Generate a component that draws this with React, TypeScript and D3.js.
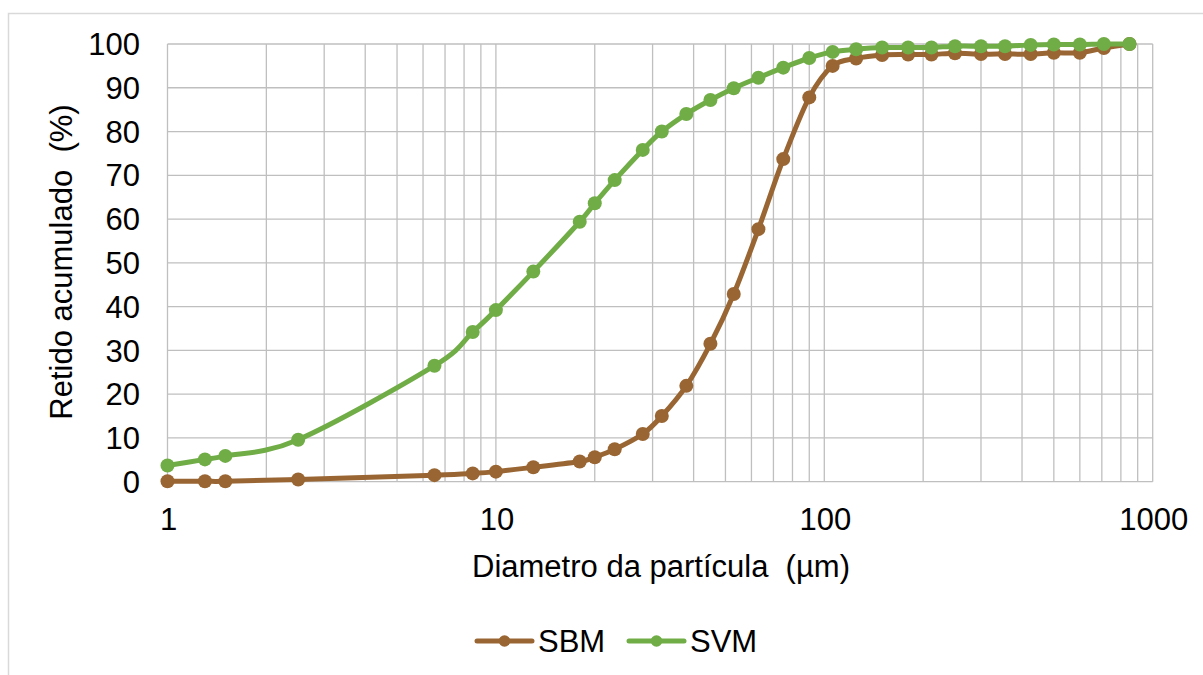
import React from "react";
import * as d3 from "d3";

const sbmSizes = [1, 1.3, 1.5, 2.5, 6.5, 8.5, 10, 13, 18, 20, 23, 28, 32, 38, 45, 53, 63, 75, 90, 106, 125, 150, 180, 212, 250, 300, 355, 425, 500, 600, 710, 850];
const sbmValues = [0.1, 0.1, 0.1, 0.5, 1.5, 1.9, 2.3, 3.3, 4.6, 5.6, 7.4, 10.9, 15.0, 21.9, 31.5, 42.9, 57.7, 73.7, 87.8, 95.0, 96.7, 97.5, 97.6, 97.6, 97.9, 97.7, 97.7, 97.7, 98.0, 98.0, 99.1, 100];
const svmSizes = [1, 1.3, 1.5, 2.5, 6.5, 8.5, 10, 13, 18, 20, 23, 28, 32, 38, 45, 53, 63, 75, 90, 106, 125, 150, 180, 212, 250, 300, 355, 425, 500, 600, 710, 850];
const svmValues = [3.7, 5.1, 5.9, 9.6, 26.5, 34.2, 39.2, 48.0, 59.4, 63.6, 68.9, 75.8, 80.0, 84.0, 87.2, 89.9, 92.3, 94.6, 96.8, 98.2, 98.8, 99.2, 99.2, 99.2, 99.5, 99.5, 99.5, 99.8, 99.9, 99.9, 100, 100];
const yTicks = [0, 10, 20, 30, 40, 50, 60, 70, 80, 90, 100];
const xTicks = [1, 10, 100, 1000];
const seriesNames = ["SBM", "SVM"];
const seriesColors = ["#996633", "#70AD47"];

export default function App() {
  const W = 1203, H = 675;
  const x = d3.scaleLog().domain([1, 1000]).range([167.5, 1152.7]);
  const y = d3.scaleLinear().domain([0, 100]).range([481.7, 44]);
  const minor: number[] = [];
  for (const dec of [1, 10, 100]) for (let k = 2; k <= 9; k++) minor.push(dec * k);
  const line = d3
    .line<[number, number]>()
    .x((d) => x(d[0]))
    .y((d) => y(d[1]))
    .curve(d3.curveCardinal.tension(0));
  const series = [
    sbmSizes.map((s, i) => [s, sbmValues[i]] as [number, number]),
    svmSizes.map((s, i) => [s, svmValues[i]] as [number, number]),
  ];
  const font = "'Liberation Sans', Arial, sans-serif";
  const fs = 31;
  const grid = "#BFBFBF";
  const legendX = [477, 629];
  const legendY = 641;
  return (
    <svg width={W} height={H} style={{ position: "fixed", left: 0, top: 0, background: "#fff" }} fontFamily={font}>
      <rect x={0} y={0} width={W} height={H} fill="#fff" />
      <rect x={8.5} y={13.5} width={W + 20} height={H + 20} fill="none" stroke="#D9D9D9" strokeWidth={1.5} />
      {minor.map((v) => (
        <line key={"m" + v} x1={x(v)} x2={x(v)} y1={y(0)} y2={y(100)} stroke={grid} strokeWidth={1.3} />
      ))}
      {xTicks.map((v) => (
        <line key={"xt" + v} x1={x(v)} x2={x(v)} y1={y(0)} y2={y(100)} stroke={grid} strokeWidth={1.3} />
      ))}
      {yTicks.map((v) => (
        <line key={"yg" + v} x1={x(1)} x2={x(1000)} y1={y(v)} y2={y(v)} stroke={grid} strokeWidth={1.3} />
      ))}
      {yTicks.map((v) => (
        <text key={"yl" + v} x={140} y={y(v)} dy="0.36em" textAnchor="end" fontSize={fs} fill="#000">
          {v}
        </text>
      ))}
      {xTicks.map((v) => (
        <text key={"xl" + v} x={x(v) + 1} y={530} textAnchor="middle" fontSize={fs} fill="#000">
          {v}
        </text>
      ))}
      {series.map((s, i) => (
        <g key={"s" + i}>
          <path d={line(s) || ""} fill="none" stroke={seriesColors[i]} strokeWidth={5} strokeLinejoin="round" strokeLinecap="round" />
          {s.map((d, j) => (
            <circle key={j} cx={x(d[0])} cy={y(d[1])} r={7} fill={seriesColors[i]} />
          ))}
        </g>
      ))}
      <text x={661} y={577} textAnchor="middle" fontSize={fs} fill="#000">
        {"Diametro da partícula\u00A0\u00A0(µm)"}
      </text>
      <text transform={`translate(72, 262) rotate(-90)`} textAnchor="middle" fontSize={fs} fill="#000">
        {"Retido acumulado\u00A0\u00A0(%)"}
      </text>
      {seriesNames.map((n, i) => (
        <g key={"lg" + i}>
          <line x1={legendX[i]} x2={legendX[i] + 55} y1={legendY} y2={legendY} stroke={seriesColors[i]} strokeWidth={5} strokeLinecap="round" />
          <circle cx={legendX[i] + 27.5} cy={legendY} r={5.8} fill={seriesColors[i]} />
          <text x={legendX[i] + 61} y={legendY + 11} fontSize={fs} fill="#000">
            {n}
          </text>
        </g>
      ))}
    </svg>
  );
}
